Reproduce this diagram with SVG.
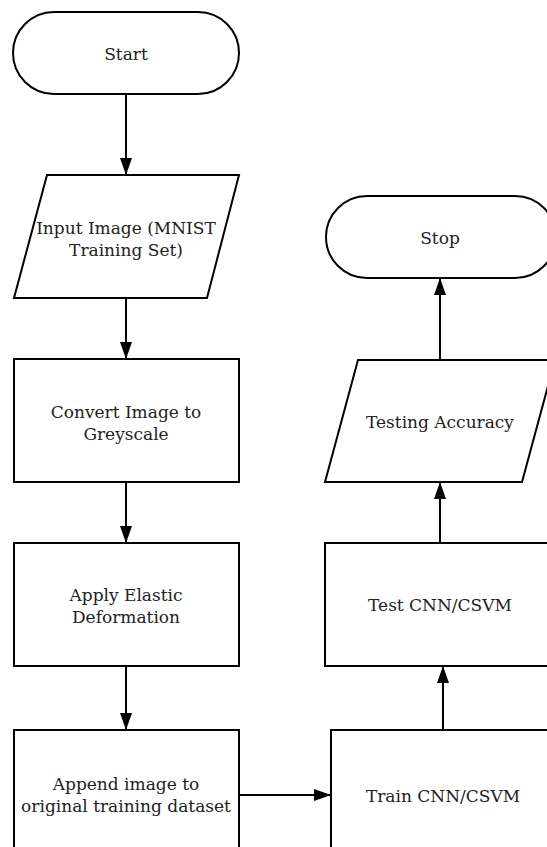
<svg xmlns="http://www.w3.org/2000/svg" width="547" height="847" viewBox="0 0 547 847">
<style>
.s{fill:#fff;stroke:#000;stroke-width:2}
.t{font-family:"DejaVu Serif","Liberation Serif",serif;font-size:17px;fill:#222;text-anchor:middle}
.c{stroke:#000;stroke-width:2;fill:none}
</style>
<defs>
<marker id="a" viewBox="0 0 17 12" refX="17" refY="6" markerWidth="17" markerHeight="12" markerUnits="userSpaceOnUse" orient="auto">
<path d="M0,0 L17,6 L0,12 Z" fill="#000"/>
</marker>
</defs>
<rect width="547" height="847" fill="#fff"/>
<g id="connectors">
<line class="c" x1="126" y1="94" x2="126" y2="175" marker-end="url(#a)"/>
<line class="c" x1="126" y1="298" x2="126" y2="359" marker-end="url(#a)"/>
<line class="c" x1="126" y1="482" x2="126" y2="543" marker-end="url(#a)"/>
<line class="c" x1="126" y1="666" x2="126" y2="730" marker-end="url(#a)"/>
<line class="c" x1="239" y1="795" x2="331" y2="795" marker-end="url(#a)"/>
<line class="c" x1="443" y1="730" x2="443" y2="666" marker-end="url(#a)"/>
<line class="c" x1="440" y1="543" x2="440" y2="482" marker-end="url(#a)"/>
<line class="c" x1="440" y1="360" x2="440" y2="278" marker-end="url(#a)"/>
</g>
<g id="start">
<rect class="s" x="13" y="12" width="226" height="82" rx="41" ry="41"/>
<text class="t" x="126" y="60">Start</text>
</g>
<g id="input">
<polygon class="s" points="47,175 239,175 207,298 14,298"/>
<text class="t" x="126" y="234">Input Image (MNIST</text>
<text class="t" x="126" y="256">Training Set)</text>
</g>
<g id="convert">
<rect class="s" x="14" y="359" width="225" height="123"/>
<text class="t" x="126" y="418">Convert Image to</text>
<text class="t" x="126" y="440">Greyscale</text>
</g>
<g id="elastic">
<rect class="s" x="14" y="543" width="225" height="123"/>
<text class="t" x="126" y="601">Apply Elastic</text>
<text class="t" x="126" y="623">Deformation</text>
</g>
<g id="append">
<rect class="s" x="14" y="730" width="225" height="130"/>
<text class="t" x="126" y="790">Append image to</text>
<text class="t" x="126" y="812">original training dataset</text>
</g>
<g id="train">
<rect class="s" x="331" y="730" width="225" height="130"/>
<text class="t" x="443" y="802">Train CNN/CSVM</text>
</g>
<g id="test">
<rect class="s" x="325" y="543" width="230" height="123"/>
<text class="t" x="440" y="611">Test CNN/CSVM</text>
</g>
<g id="accuracy">
<polygon class="s" points="358,360 555,360 522,482 325,482"/>
<text class="t" x="440" y="428">Testing Accuracy</text>
</g>
<g id="stop">
<rect class="s" x="326" y="196" width="230" height="82" rx="41" ry="41"/>
<text class="t" x="440" y="244">Stop</text>
</g>
</svg>
